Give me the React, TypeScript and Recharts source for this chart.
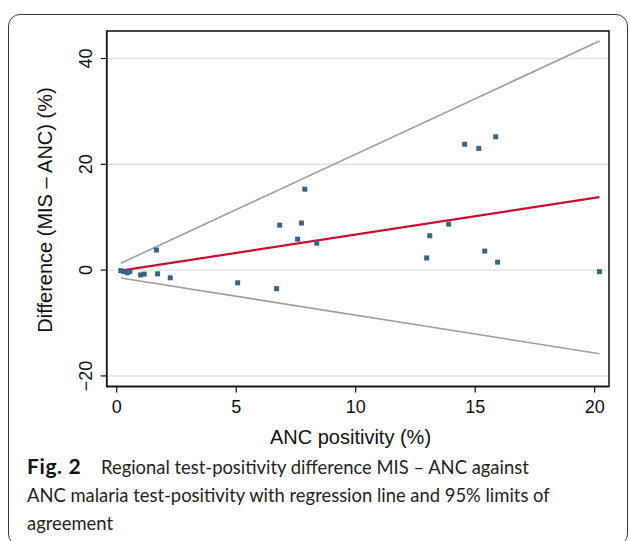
import {
  ComposedChart,
  Scatter,
  Line,
  XAxis,
  YAxis,
  CartesianGrid,
  ReferenceArea,
} from "recharts";

// ANC positivity (%) and MIS - ANC difference (%) by region
const ancPositivity = [
  0.17, 0.3, 0.45, 0.55, 1.0, 1.15, 1.66, 1.71, 2.24, 5.06, 6.69, 6.82, 7.57,
  7.73, 7.87, 8.37, 12.97, 13.1, 13.89, 14.56, 15.15, 15.4, 15.86, 15.94, 20.2,
];
const difference = [
  -0.1, -0.3, -0.5, -0.25, -0.9, -0.75, 3.8, -0.7, -1.45, -2.4, -3.5, 8.5, 5.85,
  8.9, 15.3, 5.1, 2.3, 6.5, 8.7, 23.8, 23.0, 3.6, 25.2, 1.5, -0.3,
];

// regression line and 95% limits of agreement (end points)
const fitX = [0.17, 20.2];
const regressionFit = [-0.1, 13.8];
const upperLimit = [1.3, 43.3];
const lowerLimit = [-1.5, -15.8];

const xTicks = [0, 5, 10, 15, 20];
const yTicks = [-20, 0, 20, 40];
const xDomain = [-0.42, 20.6];
const yDomain = [-22.0, 45.2];

const points = ancPositivity.map((x, i) => ({ x, y: difference[i] }));
const toLine = (ys: number[]) => fitX.map((x, i) => ({ x, y: ys[i] }));

const FONT = "'Liberation Sans', Arial, Helvetica, sans-serif";
const minus = (v: number) => String(v).replace("-", "\u2212");

const Square = ({ cx, cy }: any) => (
  <rect x={cx - 2.5} y={cy - 2.5} width={5} height={5} fill="#3b6484" />
);

const YTick = ({ x, y, payload }: any) => (
  <text
    transform={`translate(${x},${y}) rotate(-90)`}
    textAnchor="middle"
    fontSize={18}
    fontFamily={FONT}
    fill="#111"
  >
    {minus(payload.value)}
  </text>
);

export default function App() {
  return (
    <div
      style={{
        position: "fixed",
        left: 0,
        top: 0,
        width: 630,
        height: 541,
        overflow: "hidden",
        background: "#fff",
      }}
    >
      <div
        style={{
          position: "absolute",
          left: 8,
          top: 14,
          width: 618,
          height: 530,
          border: "1.5px solid #3a3a3a",
          borderRadius: 12,
        }}
      />
      <div style={{ position: "absolute", left: 0, top: 0 }}>
        <ComposedChart
          width={630}
          height={460}
          margin={{ top: 31, right: 21, bottom: 23.5, left: 46.7 }}
        >
          <CartesianGrid
            vertical={false}
            stroke="#e4e4e4"
            strokeWidth={1.5}
          />
          <XAxis
            dataKey="x"
            type="number"
            domain={xDomain}
            ticks={xTicks}
            height={50}
            tickSize={6}
            tickMargin={8}
            axisLine={{ stroke: "#111", strokeWidth: 1.5 }}
            tickLine={{ stroke: "#111", strokeWidth: 1.2 }}
            tick={{ fontSize: 18, fontFamily: FONT, fill: "#111" }}
            allowDataOverflow
            label={{
              content: () => (
                <text
                  x={350.5}
                  y={444}
                  textAnchor="middle"
                  fontSize={20}
                  fontFamily={FONT}
                  fill="#111"
                >
                  ANC positivity (%)
                </text>
              ),
            }}
          />
          <YAxis
            dataKey="y"
            type="number"
            domain={yDomain}
            ticks={yTicks}
            width={60}
            tickSize={6}
            tickMargin={8.7}
            axisLine={{ stroke: "#111", strokeWidth: 1.5 }}
            tickLine={{ stroke: "#111", strokeWidth: 1.2 }}
            tick={<YTick />}
            allowDataOverflow
            label={{
              content: () => (
                <text
                  transform="translate(52,210) rotate(-90)"
                  textAnchor="middle"
                  fontSize={20}
                  fontFamily={FONT}
                  fill="#111"
                >
                  Difference (MIS – ANC) (%)
                </text>
              ),
            }}
          />
          <ReferenceArea
            x1={xDomain[0]}
            x2={xDomain[1]}
            y1={yDomain[0]}
            y2={yDomain[1]}
            fill="none"
            stroke="#111"
            strokeWidth={1.5}
            ifOverflow="visible"
          />
          <Scatter
            data={points}
            dataKey="y"
            shape={<Square />}
            isAnimationActive={false}
          />
          <Line
            data={toLine(upperLimit)}
            dataKey="y"
            stroke="#9e9e9e"
            strokeWidth={1.6}
            dot={false}
            activeDot={false}
            isAnimationActive={false}
          />
          <Line
            data={toLine(lowerLimit)}
            dataKey="y"
            stroke="#9e9e9e"
            strokeWidth={1.6}
            dot={false}
            activeDot={false}
            isAnimationActive={false}
          />
          <Line
            data={toLine(regressionFit)}
            dataKey="y"
            stroke="#c8102e"
            strokeWidth={2.2}
            dot={false}
            activeDot={false}
            isAnimationActive={false}
          />
        </ComposedChart>
      </div>
      <div
        style={{
          position: "absolute",
          left: 27,
          top: 452,
          width: 595,
          fontFamily: "Lato, 'Open Sans', sans-serif",
          fontSize: 18.4,
          lineHeight: "28px",
          color: "#231f20",
          whiteSpace: "nowrap",
        }}
      >
        <b
          style={{
            display: "inline-block",
            width: 74,
            fontSize: 21,
            letterSpacing: 0.6,
            color: "#111",
          }}
        >
          Fig. 2
        </b>
        Regional test-positivity difference MIS – ANC against
        <br />
        ANC malaria test-positivity with regression line and 95% limits of
        <br />
        agreement
      </div>
    </div>
  );
}
